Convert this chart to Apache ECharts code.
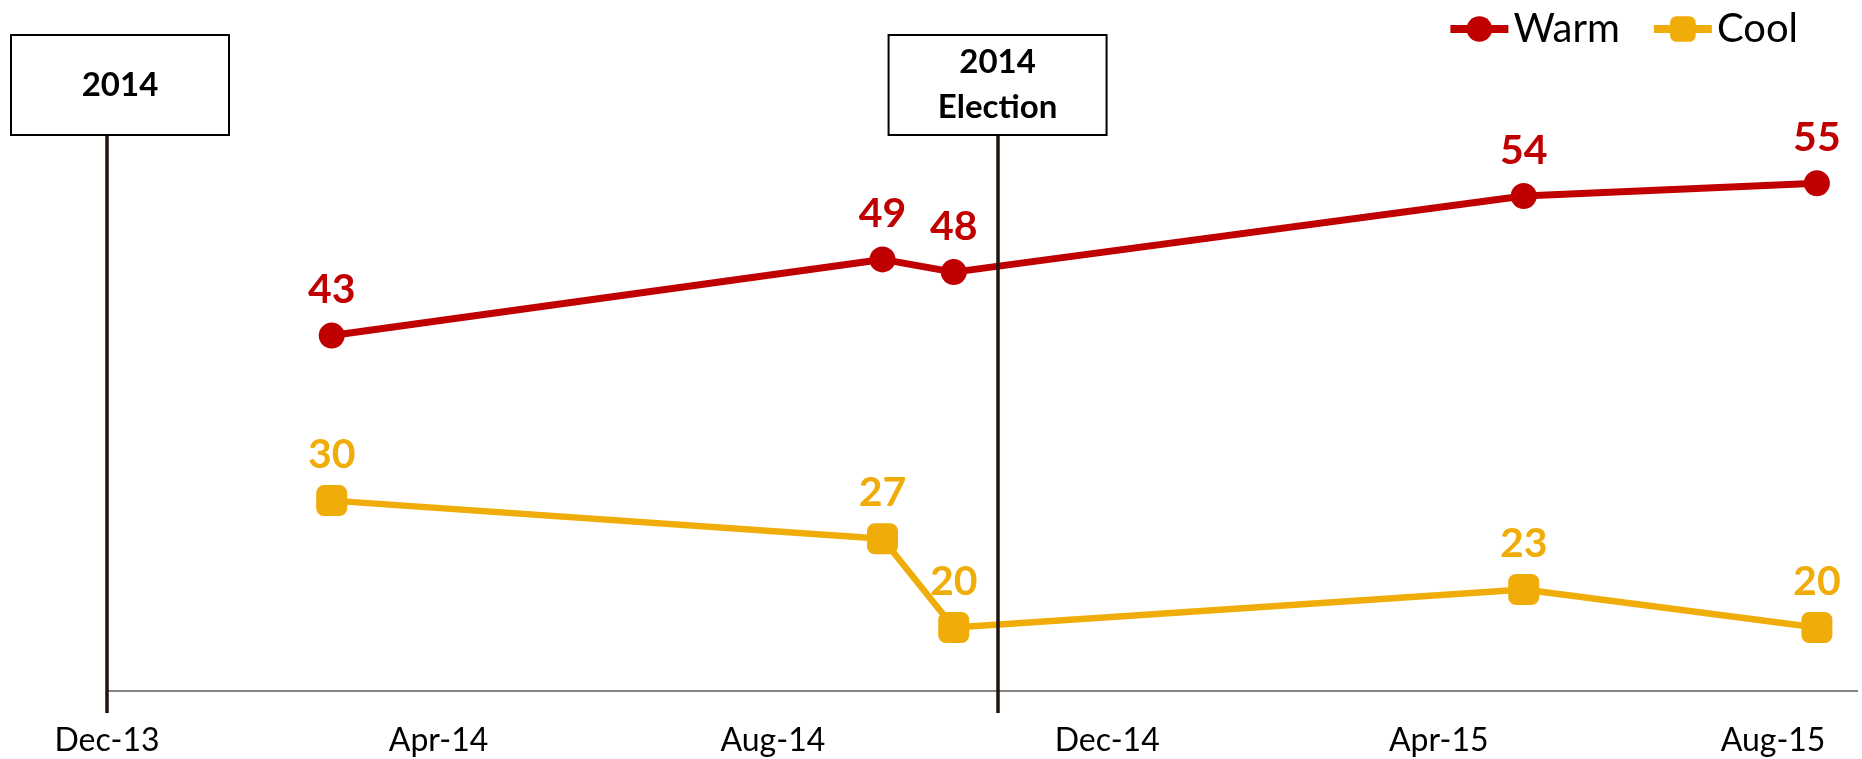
<!DOCTYPE html>
<html>
<head>
<meta charset="utf-8">
<title>Warm / Cool</title>
<script src="https://cdn.jsdelivr.net/npm/echarts@6/dist/echarts.min.js"></script>
<style>
html, body { margin: 0; padding: 0; background: #fff; }
#chart { width: 1862px; height: 759px; }
</style>
</head>
<body>
<div id="chart"></div>
<script>
// survey data
var surveyDates = ['2014-02-21', '2014-09-10', '2014-10-06', '2015-05-02', '2015-08-17'];
var warm = [43, 49, 48, 54, 55];
var cool = [30, 27, 20, 23, 20];

// x axis labels
var tickDates = ['2013-12-01', '2014-04-01', '2014-08-01', '2014-12-01', '2015-04-01', '2015-08-01'];
var monthNames = ['Jan', 'Feb', 'Mar', 'Apr', 'May', 'Jun', 'Jul', 'Aug', 'Sep', 'Oct', 'Nov', 'Dec'];

// event markers
var eventDates = ['2013-12-01', '2014-10-22'];
var eventLabels = ['2014', '2014\nElection'];

function toTime(s) {
	var p = s.split('-');
	return new Date(+p[0], +p[1] - 1, +p[2]).getTime();
}

var font = 'Lato, "Open Sans", sans-serif';
var red = '#C00000',
	gold = '#F0AD0A';

var chart = echarts.init(document.getElementById('chart'));

var option = {
	animation: false,
	grid: { left: 107, right: 4, top: 134, bottom: 46 },
	legend: {
		data: ['Warm', 'Cool'],
		right: 64,
		top: 9,
		padding: 0,
		itemWidth: 58,
		itemHeight: 32,
		itemGap: 30,
		lineStyle: { width: 8 },
		textStyle: { fontSize: 40, fontFamily: font, color: '#000' }
	},
	xAxis: {
		// dates as ms on a value axis so the labels can sit on the 1st of the month
		type: 'value',
		min: toTime('2013-12-01'),
		max: toTime('2015-09-01'),
		splitLine: { show: false },
		axisLine: { show: false },
		axisTick: { show: false },
		axisLabel: {
			customValues: tickDates.map(toTime),
			margin: 12,
			fontSize: 32,
			fontFamily: font,
			color: '#000',
			formatter: function (v) {
				var d = new Date(v);
				return monthNames[d.getMonth()] + '-' + String(d.getFullYear()).slice(2);
			}
		}
	},
	yAxis: {
		type: 'value',
		min: 13.27,
		max: 58.88,
		show: false,
		splitLine: { show: false }
	},
	series: [
		{
			name: 'Warm',
			type: 'line',
			data: surveyDates.map(function (d, i) { return [toTime(d), warm[i]]; }),
			symbol: 'circle',
			symbolSize: 26,
			color: red,
			lineStyle: { width: 7, color: red },
			itemStyle: { color: red },
			label: {
				show: true, position: 'top', distance: 12,
				fontSize: 41, fontWeight: 'bold', fontFamily: font, color: red,
				formatter: function (p) { return p.value[1]; }
			}
		},
		{
			name: 'Cool',
			type: 'line',
			data: surveyDates.map(function (d, i) { return [toTime(d), cool[i]]; }),
			symbol: 'roundRect',
			symbolSize: 31,
			color: gold,
			lineStyle: { width: 6.5, color: gold },
			itemStyle: { color: gold },
			label: {
				show: true, position: 'top', distance: 10,
				fontSize: 41, fontWeight: 'bold', fontFamily: font, color: gold,
				formatter: function (p) { return p.value[1]; }
			}
		},
		{
			name: 'markers',
			type: 'line',
			data: [],
			z: 5,
			markLine: {
				silent: true,
				symbol: 'none',
				animation: false,
				lineStyle: { color: '#21130D', width: 3.5, type: 'solid' },
				data: [{
					yAxis: 15,
					lineStyle: { color: '#868686', width: 2 },
					label: { show: false }
				}].concat(eventDates.map(function (d, i) {
					return {
						xAxis: toTime(d),
						label: {
							show: true,
							position: 'end',
							distance: 0,
							formatter: eventLabels[i],
							offset: i === 0 ? [13, 0] : [0, 0],
							fontSize: 33,
							fontWeight: 'bold',
							fontFamily: font,
							color: '#000',
							lineHeight: 45,
							width: 216,
							align: 'center',
							padding: i === 0 ? [27, 0, 26, 0] : [4, 0, 4, 0],
							backgroundColor: '#fff',
							borderColor: '#000',
							borderWidth: 2
						}
					};
				}))
			}
		}
	]
};

chart.setOption(option);
</script>
</body>
</html>
